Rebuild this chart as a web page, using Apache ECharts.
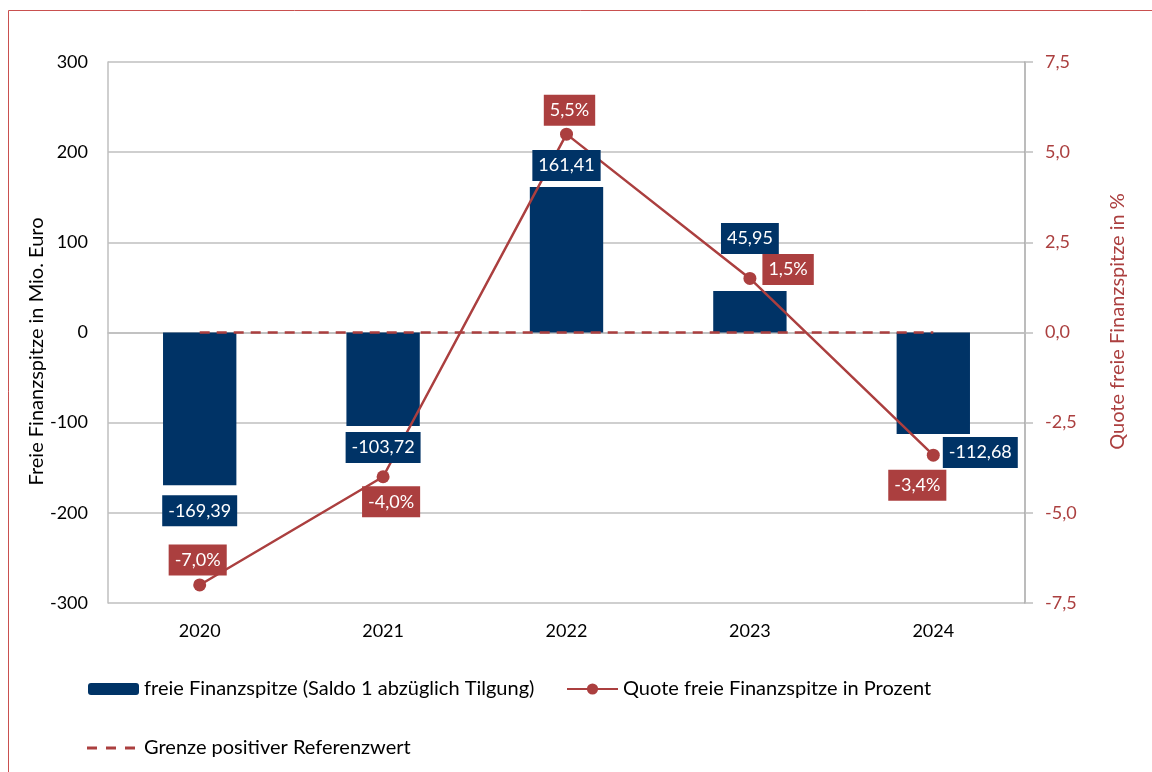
<!DOCTYPE html>
<html>
<head>
<meta charset="utf-8">
<script src="https://cdn.jsdelivr.net/npm/echarts@6/dist/echarts.min.js"></script>
<style>
html,body{margin:0;padding:0;background:#fff;}
#chart{width:1152px;height:772px;}
</style>
</head>
<body>
<div id="chart"></div>
<script>
// ---- data ----
var years = ['2020', '2021', '2022', '2023', '2024'];
var finanzspitze = [-169.39, -103.72, 161.41, 45.95, -112.68];
var quote = [-7.0, -4.0, 5.5, 1.5, -3.4];
var referenz = [0, 0, 0, 0, 0];
var leftTicks = { min: -300, max: 300, interval: 100 };
var rightTicks = { min: -7.5, max: 7.5, interval: 2.5 };

var seriesNames = {
  bar: 'freie Finanzspitze (Saldo 1 abzüglich Tilgung)',
  line: 'Quote freie Finanzspitze in Prozent',
  ref: 'Grenze positiver Referenzwert'
};

// ---- label placement (style, not data) ----
var barLabelPlace = [
  { position: 'bottom', distance: 10 },
  { position: 'bottom', distance: 6 },
  { position: 'top', distance: 6 },
  { position: 'top', distance: 37 },
  { position: 'bottom', distance: 3, offset: [47, 0] }
];
var lineLabelPlace = [
  { position: 'top', distance: 3, offset: [-2, 0] },
  { position: 'bottom', distance: 3, offset: [8, 0] },
  { position: 'top', distance: 2, offset: [3, 0] },
  { position: 'right', distance: 6, offset: [0, -9] },
  { position: 'bottom', distance: 8, offset: [-16, 0] }
];

var FONT = 'Lato';
var BLUE = '#003366';
var RED = '#ab3f3f';
var GRID = '#bfbfbf';
var NUM_SIZE = 18;
var TEXT_SIZE = 20;

function deNum(v, d) { return v.toFixed(d).replace('.', ','); }

var labelBase = {
  show: true, color: '#fff', fontFamily: FONT, fontSize: NUM_SIZE,
  lineHeight: 21, padding: [5, 6, 5, 6]
};

var barLabelData = finanzspitze.map(function (v, i) {
  return { value: v, label: Object.assign({}, labelBase, { backgroundColor: BLUE }, barLabelPlace[i]) };
});
var lineData = quote.map(function (v, i) {
  return { value: v, label: Object.assign({}, labelBase, { backgroundColor: RED }, lineLabelPlace[i]) };
});

var legendText = { fontFamily: FONT, fontSize: TEXT_SIZE, color: '#000' };

var chart = echarts.init(document.getElementById('chart'), null, { renderer: 'canvas' });
chart.setOption({
  animation: false,
  backgroundColor: '#fff',
  textStyle: { fontFamily: FONT },
  graphic: [{
    type: 'rect', silent: true, z: 100,
    shape: { x: 8.5, y: 10.5, width: 1300, height: 900 },
    style: { fill: 'none', stroke: '#c9504f', lineWidth: 1 }
  }],
  grid: { left: 108, right: 127, top: 62, bottom: 169, containLabel: false },
  legend: [
    {
      data: [seriesNames.bar], left: 88, top: 679, padding: 0, itemWidth: 51, itemHeight: 12, itemGap: 0,
      textStyle: legendText, selectedMode: false
    },
    {
      data: [seriesNames.line], left: 566, top: 679, padding: 0, itemWidth: 51, itemHeight: 14, itemGap: 0,
      textStyle: legendText, selectedMode: false
    },
    {
      data: [{
        name: seriesNames.ref,
        icon: 'path://M0,0 H10 V3 H0 Z M19,0 H29 V3 H19 Z M38,0 H48 V3 H38 Z'
      }],
      left: 87, top: 738, padding: 0, itemWidth: 48, itemHeight: 3, itemGap: 0,
      itemStyle: { color: RED },
      textStyle: Object.assign({}, legendText, { padding: [0, 0, 0, 4] }), selectedMode: false
    }
  ],
  xAxis: {
    type: 'category', data: years,
    axisLine: { show: true, lineStyle: { color: GRID, width: 1.5 } },
    axisTick: { show: false },
    axisLabel: { color: '#000', fontFamily: FONT, fontSize: NUM_SIZE, margin: 19 }
  },
  yAxis: [
    {
      type: 'value', min: leftTicks.min, max: leftTicks.max, interval: leftTicks.interval,
      name: 'Freie Finanzspitze in Mio. Euro', nameLocation: 'middle', nameRotate: 90, nameGap: 61,
      nameMoveOverlap: false,
      nameTextStyle: { color: '#000', fontFamily: FONT, fontSize: TEXT_SIZE, padding: [0, 38, 0, 0] },
      axisLine: { show: true, lineStyle: { color: GRID, width: 1.5 } },
      axisTick: { show: false },
      splitLine: { show: true, lineStyle: { color: GRID, width: 1.5 } },
      axisLabel: { color: '#000', fontFamily: FONT, fontSize: NUM_SIZE, margin: 20 }
    },
    {
      type: 'value', min: rightTicks.min, max: rightTicks.max, interval: rightTicks.interval,
      name: 'Quote freie Finanzspitze in %', nameLocation: 'middle', nameRotate: 90, nameGap: 83,
      nameMoveOverlap: false,
      nameTextStyle: { color: RED, fontFamily: FONT, fontSize: TEXT_SIZE, padding: [0, 0, 0, 22] },
      axisLine: { show: true, lineStyle: { color: '#a6a6a6', width: 1.5 } },
      axisTick: { show: true, inside: false, length: 8, lineStyle: { color: GRID, width: 1.5 } },
      splitLine: { show: false },
      axisLabel: {
        color: RED, fontFamily: FONT, fontSize: NUM_SIZE, margin: 20,
        formatter: function (v) { return deNum(v, 1); }
      }
    }
  ],
  series: [
    {
      name: seriesNames.bar, type: 'bar', yAxisIndex: 0, data: finanzspitze,
      barWidth: '40%', barGap: '-100%', z: 2,
      itemStyle: { color: BLUE }
    },
    {
      name: seriesNames.ref, type: 'line', yAxisIndex: 0, data: referenz,
      symbol: 'none', z: 3, silent: true,
      lineStyle: { color: RED, width: 2.5, type: [10, 7] },
      itemStyle: { color: RED }
    },
    {
      name: seriesNames.line, type: 'line', yAxisIndex: 1, data: lineData,
      symbol: 'circle', symbolSize: 13, z: 4,
      lineStyle: { color: RED, width: 2.5 },
      itemStyle: { color: RED },
      label: {
        formatter: function (p) { return deNum(p.value, 1) + '%'; }
      }
    },
    {
      name: 'labels', type: 'bar', yAxisIndex: 0, data: barLabelData,
      barWidth: '40%', barGap: '-100%', z: 6, silent: true,
      itemStyle: { color: 'rgba(0,0,0,0)' },
      label: {
        formatter: function (p) { return deNum(p.value, 2); }
      }
    }
  ]
});
</script>
</body>
</html>
